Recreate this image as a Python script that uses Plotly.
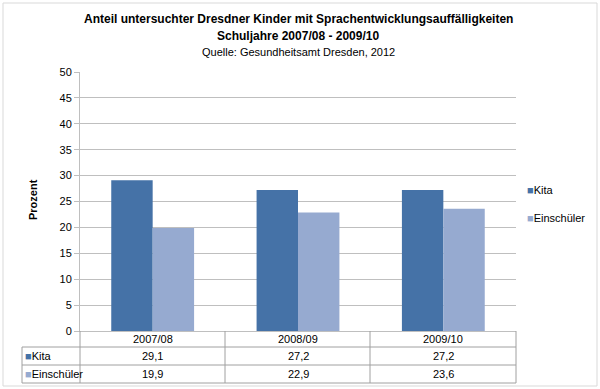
import plotly.graph_objects as go

categories = ["2007/08", "2008/09", "2009/10"]
kita = [29.1, 27.2, 27.2]
einschueler = [19.9, 22.9, 23.6]
series_names = ["Kita", "Einschüler"]
yticks = [0, 5, 10, 15, 20, 25, 30, 35, 40, 45, 50]

C_KITA = "#4572A7"
C_EIN = "#96AAD0"
GRID = "#BFBFBF"
FONT = "Liberation Sans Narrow, Liberation Sans, Arial, sans-serif"

W, H = 600, 389
L, R, T, B = 80, 516, 72, 331
PH = B - T

def py(pix):
    return (B - pix) / PH

def px(pix):
    return (pix - L) / (R - L)

fig = go.Figure()
fig.add_trace(go.Bar(x=categories, y=kita, name=series_names[0], marker_color=C_KITA,
                     marker_line=dict(width=0)))
fig.add_trace(go.Bar(x=categories, y=einschueler, name=series_names[1], marker_color=C_EIN,
                     marker_line=dict(width=0)))

shapes = []
def line(x0, y0, x1, y1, color=GRID, w=1):
    shapes.append(dict(type="line", xref="paper", yref="paper",
                       x0=px(x0), y0=py(y0), x1=px(x1), y1=py(y1),
                       line=dict(color=color, width=w)))

# table lines
row_y = [331, 347, 365, 383]
col_x = [80, 225, 370, 516]
for yy in row_y[1:]:
    line(22, yy, 516, yy, "#A0A0A0")
for xx in col_x:
    line(xx, 331, xx, 383, "#A0A0A0")
line(22, 347, 22, 383, "#A0A0A0")
# outer frame
shapes.append(dict(type="rect", xref="paper", yref="paper",
                   x0=px(3), y0=py(3), x1=px(597), y1=py(386),
                   line=dict(color="#D9D9D9", width=1)))

annotations = []
def ann(x, y, text, size=11, xref="paper", xanchor="center", **kw):
    annotations.append(dict(x=x, y=y, xref=xref, yref="paper", text=text,
                            showarrow=False, xanchor=xanchor, yanchor="middle",
                            font=dict(size=size, color="#000"), **kw))

# table rows
for c in categories:
    ann(c, py(339), c, xref="x")
for c, v in zip(categories, kita):
    ann(c, py(356), f"{v:.1f}".replace(".", ","), xref="x")
for c, v in zip(categories, einschueler):
    ann(c, py(374), f"{v:.1f}".replace(".", ","), xref="x")
# row headers with legend keys
for name, col, yy in [(series_names[0], C_KITA, 356), (series_names[1], C_EIN, 374)]:
    ann(px(23), py(yy), f"<span style='color:{col}'>■</span>{name}", xanchor="left")

# legend (drawn manually)
for name, col, yy in [(series_names[0], C_KITA, 190), (series_names[1], C_EIN, 218)]:
    ann(px(525), py(yy), f"<span style='color:{col}'>■</span>{name}", xanchor="left")

# titles
ann(px(298), py(19), "<b>Anteil untersuchter Dresdner Kinder mit Sprachentwicklungsauffälligkeiten</b>", size=12)
ann(px(298), py(36), "<b>Schuljahre 2007/08 - 2009/10</b>", size=12)
ann(px(298), py(52), "Quelle: Gesundheitsamt Dresden, 2012", size=11)
# y-axis title
ann(px(33), py(200), "<b>Prozent</b>", textangle=-90)

fig.update_layout(
    width=W, height=H,
    margin=dict(l=L, r=W - R, t=T, b=H - B, pad=0),
    paper_bgcolor="white", plot_bgcolor="white",
    font=dict(family=FONT, size=11, color="#000"),
    barmode="group", bargap=0.43, bargroupgap=0,
    showlegend=False,
    xaxis=dict(showticklabels=False, showline=True, linecolor=GRID, ticks="",
               showgrid=False),
    yaxis=dict(range=[0, 50], tickvals=yticks, showgrid=True, gridcolor=GRID,
               showline=True, linecolor=GRID, ticks="outside", ticklen=5,
               tickcolor=GRID, zeroline=False, tickfont=dict(size=11)),
    shapes=shapes, annotations=annotations,
)

fig.write_html("out.html", config={"displayModeBar": False},
               post_script="document.body.style.margin='0';document.body.style.overflow='hidden';")
